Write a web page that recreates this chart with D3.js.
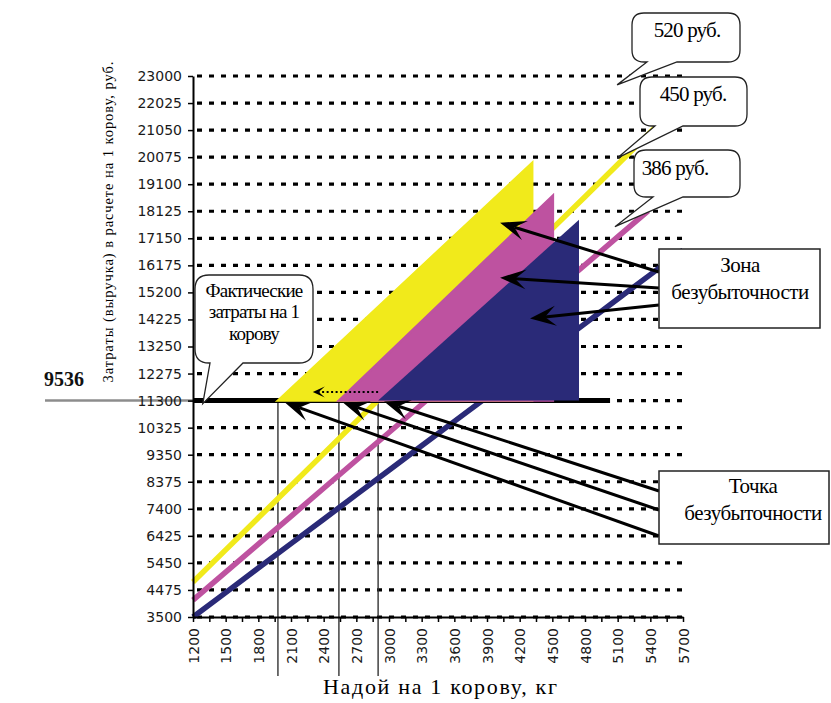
<!DOCTYPE html>
<html><head><meta charset="utf-8">
<script src="https://cdn.jsdelivr.net/npm/d3@7"></script>
<style>body{margin:0;background:#fff}</style>
</head><body>
<svg id="chart" width="831" height="703"></svg>
<script>
// ---------- data ----------
const yTicks = [3500,4475,5450,6425,7400,8375,9350,10325,11300,12275,13250,14225,15200,16175,17150,18125,19100,20075,21050,22025,23000];
const xTicks = [1200,1500,1800,2100,2400,2700,3000,3300,3600,3900,4200,4500,4800,5100,5400,5700];
const xMinorTicks = [1200,1350,1500,1650,1800,1950,2100,2250,2400,2550,2700,2850,3000,3150,3300,3450,3600,3750,3900,4050,4200,4350,4500,4650,4800,4950,5100,5250,5400,5550,5700];

const yield520 = [1200,1500,1800,2100,2400,2700,3000,3300,3600,3900,4200,4500,4800,5100,5440];
const revenue520 = [4760,5920,7075,8230,9390,10550,11700,12860,14020,15180,16340,17500,18650,19810,21130];
const yield450 = [1200,1500,1800,2100,2400,2700,3000,3300,3600,3900,4200,4500,4800,5100,5380];
const revenue450 = [4110,5120,6125,7130,8140,9150,10150,11160,12170,13180,14180,15190,16190,17200,18140];
const yield386 = [1200,1500,1800,2100,2400,2700,3000,3300,3600,3900,4200,4500,4800,5100,5400,5700];
const revenue386 = [3500,4380,5265,6145,7025,7910,8790,9670,10550,11430,12315,13195,14075,14960,15840,16720];

const priceLabels = ["520 руб.","450 руб.","386 руб."];
const breakEvenYield = [1980, 2540, 2900];      // bottom-left corners of zones
const zoneTopYield = [4315, 4505, 4745];
const zoneTopCost = [19870, 18690, 17820];
const factCost = 11300;
const factCostEndYield = 5030;
const factLabel = "9536";

// ---------- setup ----------
const svg = d3.select("#chart");
const x = d3.scaleLinear().domain([1200,5700]).range([193,683]);
const y = d3.scaleLinear().domain([3500,23000]).range([617,76]);
const colors = ["#F1EA1B","#BE52A0","#2A2A78"];
const serif = "'Liberation Serif','Times New Roman',serif";
const sans = "'DejaVu Sans',sans-serif";

// gridlines
svg.append("g").selectAll("line").data(yTicks).join("line")
  .attr("x1", x(1200)+4).attr("x2", x(5700))
  .attr("y1", d=>y(d)).attr("y2", d=>y(d))
  .attr("stroke","#000").attr("stroke-width",3.2)
  .attr("stroke-dasharray","5,7");

// break-even verticals
svg.append("g").selectAll("line").data(breakEvenYield).join("line")
  .attr("x1", d=>x(d)).attr("x2", d=>x(d))
  .attr("y1", y(factCost)).attr("y2", 676)
  .attr("stroke","#333").attr("stroke-width",1.4);

// gray reference line + label
svg.append("line").attr("x1",45).attr("x2",x(1200)).attr("y1",y(factCost)).attr("y2",y(factCost))
  .attr("stroke","#8c8c8c").attr("stroke-width",2.5);
svg.append("text").attr("x",44).attr("y",386).text(factLabel)
  .attr("font-family",serif).attr("font-weight","bold").attr("font-size",20).attr("fill","#111");

// series lines
const line = d3.line().x(d=>x(d[0])).y(d=>y(d[1]));
const series = [
  d3.zip(yield520, revenue520),
  d3.zip(yield450, revenue450),
  d3.zip(yield386, revenue386)
];
svg.append("g").selectAll("path").data(series).join("path")
  .attr("d", line).attr("fill","none")
  .attr("stroke",(d,i)=>colors[i]).attr("stroke-width",5.5);

// fact cost thick line
svg.append("line").attr("x1",x(1200)).attr("x2",x(factCostEndYield))
  .attr("y1",y(factCost)).attr("y2",y(factCost))
  .attr("stroke","#000").attr("stroke-width",5);

// zones (triangles)
svg.append("g").selectAll("path").data(breakEvenYield.map((b,i)=>[
    [b, factCost],[zoneTopYield[i], zoneTopCost[i]],[zoneTopYield[i], factCost]]))
  .join("path")
  .attr("d", d=>"M"+d.map(p=>[x(p[0]),y(p[1])].join(",")).join("L")+"Z")
  .attr("fill",(d,i)=>colors[i])
  .attr("stroke",(d,i)=> i<2 ? colors[i] : "none").attr("stroke-width",2.5)
  .attr("stroke-linejoin","miter");

// axes
const yAxis = d3.axisLeft(y).tickValues(yTicks).tickSize(5).tickSizeOuter(0).tickFormat(d3.format("d"));
const gy = svg.append("g").attr("transform",`translate(${x(1200)},0)`).call(yAxis);
gy.select(".domain").attr("stroke-width",2);
gy.selectAll(".tick line").attr("stroke-width",1.5);
gy.selectAll("text").attr("font-family",sans).attr("font-size",14).attr("fill","#1a1a1a").attr("x",-11);

const gxm = svg.append("g").attr("transform",`translate(0,${y(3500)})`)
  .call(d3.axisBottom(x).tickValues(xMinorTicks).tickSize(5).tickSizeOuter(0).tickFormat(""));
gxm.select(".domain").attr("stroke-width",2);
gxm.selectAll(".tick line").attr("stroke-width",1.5);
const gx = svg.append("g").attr("transform",`translate(0,${y(3500)})`)
  .call(d3.axisBottom(x).tickValues(xTicks).tickSize(0).tickFormat(d3.format("d")));
gx.select(".domain").remove();
gx.selectAll("text").attr("transform","rotate(-90)").attr("text-anchor","end")
  .attr("x",-11).attr("y",0).attr("dy","0.36em")
  .attr("font-family",sans).attr("font-size",14).attr("fill","#1a1a1a");

// axis titles
svg.append("text").attr("transform","translate(113,222) rotate(-90)")
  .attr("text-anchor","middle").attr("font-family",serif).attr("font-size",14.5)
  .attr("textLength",321).attr("lengthAdjust","spacing")
  .text("Затраты (выручка) в расчете на 1 корову, руб.");
svg.append("text").attr("x",440).attr("y",694).attr("text-anchor","middle")
  .attr("font-family",serif).attr("font-size",22)
  .attr("textLength",234).attr("lengthAdjust","spacing")
  .text("Надой на 1 корову, кг");

// arrow helper
function arrow(g, from, to, opts){
  const {L=26, W=10, notch=15, width=3, dash=null} = opts||{};
  const dx=to[0]-from[0], dy=to[1]-from[1], len=Math.hypot(dx,dy);
  const ux=dx/len, uy=dy/len, nx=-uy, ny=ux;
  const bx=to[0]-ux*L, by=to[1]-uy*L;
  const nxp=to[0]-ux*notch, nyp=to[1]-uy*notch;
  const ln = g.append("line").attr("x1",from[0]).attr("y1",from[1]).attr("x2",nxp).attr("y2",nyp)
    .attr("stroke","#000").attr("stroke-width",width);
  if(dash) ln.attr("stroke-dasharray",dash);
  g.append("path").attr("d",`M${to[0]},${to[1]}L${bx+nx*W},${by+ny*W}L${nxp},${nyp}L${bx-nx*W},${by-ny*W}Z`)
    .attr("fill","#000");
}
const ag = svg.append("g");

// dotted arrow
arrow(ag, [x(2900), 392], [x(2300), 392], {L:12, W:5.5, notch:6, width:2, dash:"2,2.5"});

// "Зона безубыточности" arrows
arrow(ag, [659,272], [x(4020), y(17710)], {});
arrow(ag, [659,288], [x(4020), y(15730)], {});
arrow(ag, [659,305], [x(4295), y(14260)], {});

// "Точка безубыточности" arrows
arrow(ag, [659,491], [x(breakEvenYield[2])+6, y(factCost)+1], {});
arrow(ag, [659,510], [x(breakEvenYield[1])+4, y(factCost)+2], {});
arrow(ag, [659,536], [x(breakEvenYield[0])+7, y(factCost)+2], {});

// callouts
function calloutPath(x0,y0,x1,y1,r,ta,tb,tip){
  return `M${x0+r},${y0}H${x1-r}Q${x1},${y0} ${x1},${y0+r}V${y1-r}Q${x1},${y1} ${x1-r},${y1}`+
    `H${tb}L${tip[0]},${tip[1]}L${ta},${y1}H${x0+r}Q${x0},${y1} ${x0},${y1-r}V${y0+r}Q${x0},${y0} ${x0+r},${y0}Z`;
}
const cg = svg.append("g");
const callouts = [
  {box:[632,13,740,62], ta:647, tb:677, tip:[x(5095), y(22680)], text:priceLabels[0], tx:687, ty:37},
  {box:[640,77,747,126], ta:655, tb:683, tip:[x(5100), y(20050)], text:priceLabels[1], tx:693, ty:101},
  {box:[634,150,740,197], ta:653, tb:683, tip:[x(5075), y(17570)], text:priceLabels[2], tx:675, ty:175}
];
callouts.forEach(c=>{
  cg.append("path").attr("d",calloutPath(...c.box,12,c.ta,c.tb,c.tip))
    .attr("fill","#fff").attr("stroke","#222").attr("stroke-width",1.3);
  cg.append("text").attr("x",c.tx).attr("y",c.ty).attr("text-anchor","middle")
    .attr("font-family",serif).attr("font-size",21).attr("letter-spacing","-0.8")
    .text(c.text);
});
// fact callout
cg.append("path").attr("d",calloutPath(195,275,313,363,14,210,243,[x(1290), y(factCost)+3]))
  .attr("fill","#fff").attr("stroke","#222").attr("stroke-width",1.3);
[["Фактические",297],["затраты на 1",318],["корову",340]].forEach(([t,yy])=>{
  cg.append("text").attr("x",254).attr("y",yy).attr("text-anchor","middle")
    .attr("font-family",serif).attr("font-size",19).attr("letter-spacing","-0.8").text(t);
});

// rectangular boxes
const boxes = [
  {r:[659,249,820,328], lines:[["Зона",272],["безубыточности",299]], cx:740},
  {r:[659,471,829,544], lines:[["Точка",493],["безубыточности",520]], cx:753}
];
boxes.forEach(b=>{
  cg.append("rect").attr("x",b.r[0]).attr("y",b.r[1]).attr("width",b.r[2]-b.r[0]).attr("height",b.r[3]-b.r[1])
    .attr("fill","#fff").attr("stroke","#222").attr("stroke-width",1.5);
  b.lines.forEach(([t,yy])=>{
    cg.append("text").attr("x",b.cx).attr("y",yy).attr("text-anchor","middle")
      .attr("font-family",serif).attr("font-size",21).attr("letter-spacing","-0.5").text(t);
  });
});
</script>
</body></html>
